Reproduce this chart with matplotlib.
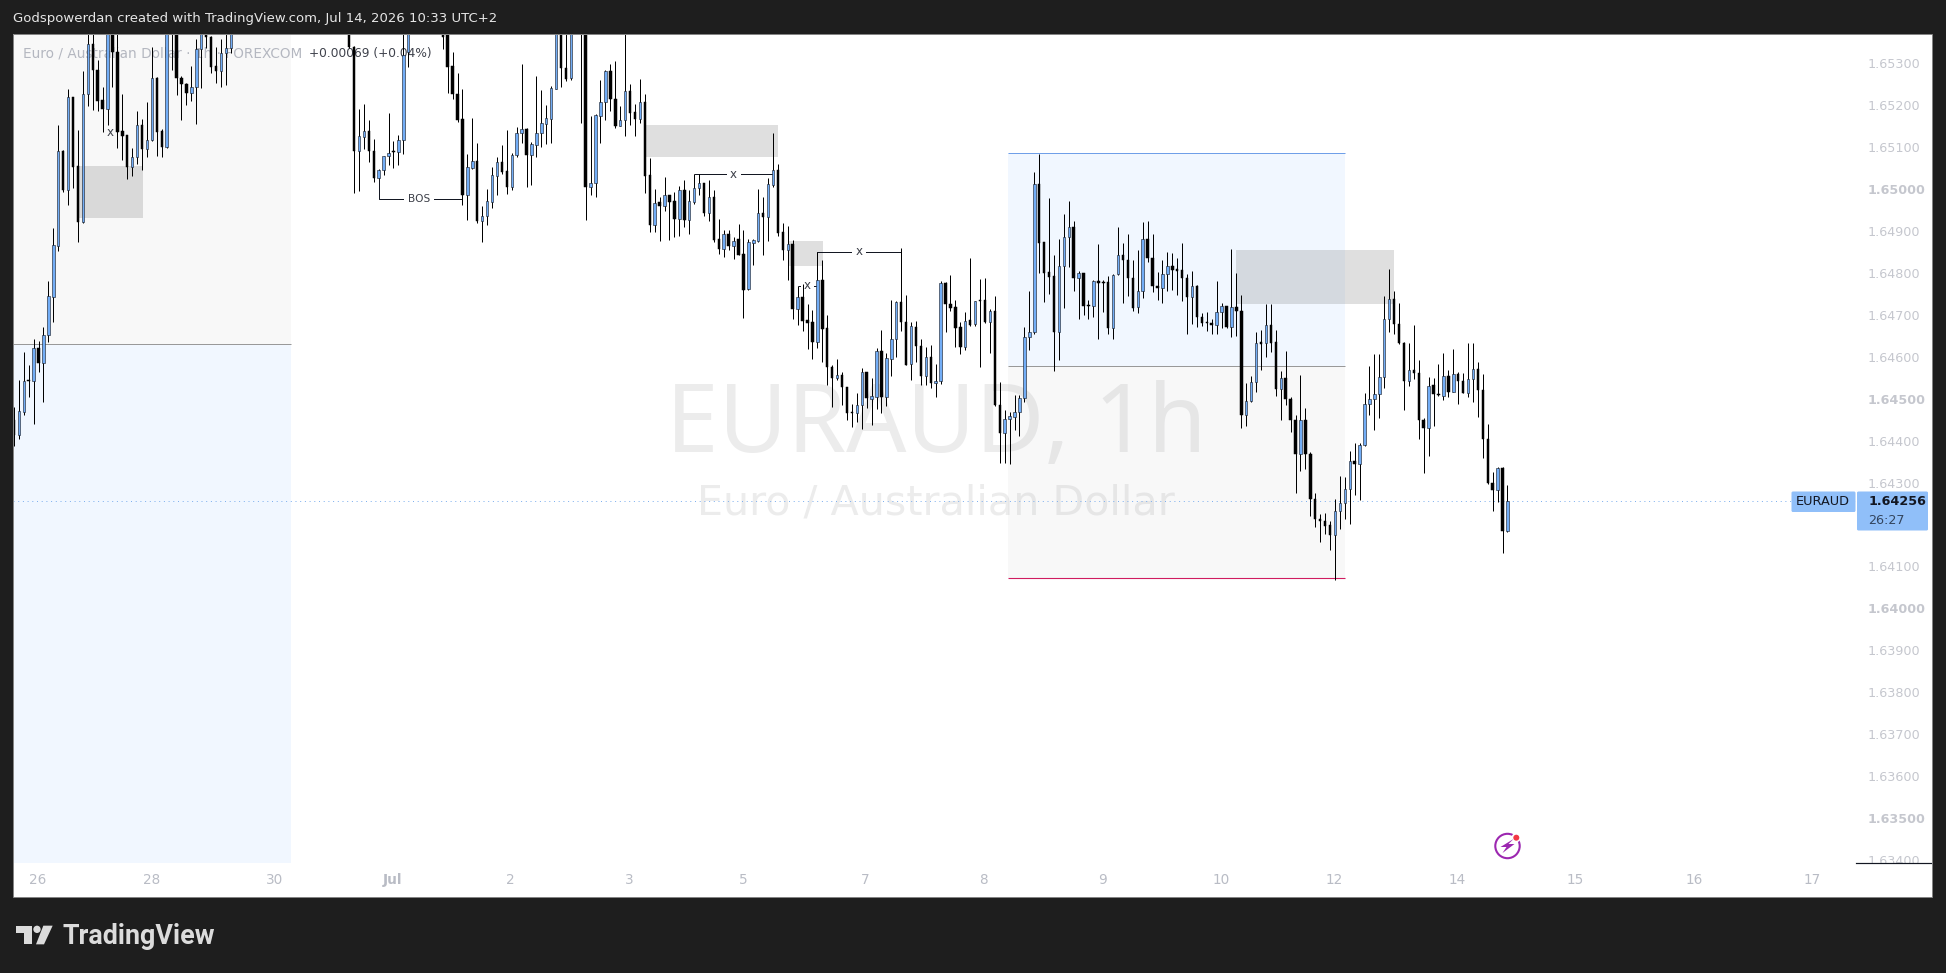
import numpy as np
import matplotlib
matplotlib.use("Agg")
import matplotlib.pyplot as plt
from matplotlib.patches import Rectangle, Circle, Polygon, FancyBboxPatch

# ---------- chart values ----------
bar_numbers = list(range(0, 45)) + list(range(68, 81)) + list(range(87, 114)) + list(range(115, 304))

opens = [
 1.64449,1.64413,1.64469,1.64545,1.64543,1.64622,1.64586,1.64653,1.64743,1.64865,
 1.65092,1.64998,1.65219,1.65055,1.64922,1.65228,1.65347,1.65285,1.65212,1.65192,
 1.65420,1.65326,1.65138,1.65128,1.65053,1.65076,1.65154,1.65096,1.65116,1.65266,
 1.65138,1.65101,1.65450,1.65400,1.65266,1.65250,1.65230,1.65243,1.65335,1.65390,
 1.65363,1.65293,1.65282,1.65325,1.65336,
 1.65420,1.65340,1.65091,1.65125,1.65138,1.65092,1.65027,1.65045,1.65080,1.65091,1.65089,1.65116,1.65328,
 1.65420,1.65400,1.65293,1.65228,1.65167,1.64987,1.65051,1.65067,1.64925,1.64936,
 1.64970,1.65032,1.65064,1.65043,1.65006,1.65082,1.65135,1.65143,1.65082,1.65106,
 1.65134,1.65156,1.65168,1.65239,1.65450,1.65290,1.65264,
 1.65450,1.65400,1.65006,1.65015,1.65175,1.65207,1.65281,1.65216,1.65151,1.65165,1.65233,1.65183,1.65168,1.65207,
 1.65033,1.64915,1.64969,1.64960,1.64985,1.64971,1.64929,1.64999,1.64927,1.64970,
 1.65003,1.65014,1.64944,1.64980,1.64880,1.64858,1.64892,1.64865,1.64880,1.64845,
 1.64761,1.64872,1.64877,1.64942,1.64933,1.65010,1.65045,1.64897,1.64855,1.64870,
 1.64715,1.64742,1.64688,1.64683,1.64636,1.64782,1.64668,1.64575,1.64550,1.64556,
 1.64527,1.64468,1.64467,1.64484,1.64563,1.64500,1.64505,1.64613,1.64503,1.64595,
 1.64642,1.64730,1.64684,1.64582,1.64672,1.64626,1.64555,1.64600,1.64537,1.64541,
 1.64775,1.64727,1.64718,1.64670,1.64624,1.64688,1.64677,1.64735,1.64735,1.64684,
 1.64708,1.64484,
 1.64419,1.64451,1.64457,1.64468,1.64501,1.64648,1.64658,1.65012,1.64873,1.64802,
 1.64793,1.64660,1.64816,1.64885,1.64909,1.64789,1.64799,1.64724,1.64720,1.64780,
 1.64778,1.64778,1.64669,1.64797,1.64842,1.64830,1.64787,1.64718,1.64756,1.64880,
 1.64836,1.64770,1.64765,1.64798,1.64816,1.64809,1.64806,1.64787,1.64743,1.64770,
 1.64694,1.64683,1.64681,1.64675,1.64706,1.64720,1.64672,1.64718,1.64708,1.64460,
 1.64495,1.64539,1.64635,1.64634,1.64675,1.64635,1.64522,1.64549,1.64499,1.64448,
 1.64367,1.64448,1.64367,1.64260,1.64213,1.64208,1.64198,1.64174,1.64233,1.64251,
 1.64284,1.64351,1.64344,1.64389,1.64487,1.64499,1.64510,1.64551,1.64689,1.64737,
 1.64678,1.64634,1.64541,1.64568,1.64561,1.64449,1.64429,1.64532,1.64510,1.64507,
 1.64554,1.64517,1.64558,1.64541,1.64514,1.64546,1.64570,1.64521,1.64403,1.64298,
 1.64281,1.64334,1.64185,
]
highs = [
 1.64479,1.64545,1.64611,1.64580,1.64642,1.64638,1.64670,1.64781,1.64906,1.65153,
 1.65093,1.65238,1.65220,1.65141,1.65281,1.65400,1.65400,1.65309,1.65244,1.65440,
 1.65440,1.65370,1.65228,1.65129,1.65097,1.65186,1.65167,1.65207,1.65338,1.65268,
 1.65143,1.65440,1.65470,1.65420,1.65270,1.65252,1.65293,1.65357,1.65420,1.65420,
 1.65365,1.65338,1.65357,1.65400,1.65420,
 1.65440,1.65342,1.65191,1.65204,1.65165,1.65119,1.65049,1.65080,1.65181,1.65115,1.65129,1.65370,1.65440,
 1.65440,1.65420,1.65326,1.65276,1.65238,1.65084,1.65169,1.65109,1.64959,1.65000,
 1.65052,1.65077,1.65105,1.65141,1.65085,1.65147,1.65298,1.65145,1.65113,1.65270,
 1.65236,1.65200,1.65246,1.65440,1.65470,1.65370,1.65440,
 1.65470,1.65420,1.65174,1.65179,1.65260,1.65284,1.65298,1.65305,1.65198,1.65390,1.65250,1.65203,1.65262,1.65228,
 1.65073,1.65000,1.64980,1.65028,1.64986,1.64994,1.65007,1.65022,1.64998,1.65037,
 1.65036,1.65015,1.65022,1.64999,1.64928,1.64902,1.64902,1.64886,1.64917,1.64902,
 1.64880,1.64880,1.65000,1.64982,1.65027,1.65134,1.65061,1.64918,1.64912,1.64878,
 1.64770,1.64774,1.64726,1.64711,1.64851,1.64831,1.64700,1.64580,1.64594,1.64564,
 1.64529,1.64487,1.64513,1.64574,1.64564,1.64549,1.64620,1.64664,1.64610,1.64735,
 1.64733,1.64859,1.64747,1.64684,1.64686,1.64642,1.64624,1.64628,1.64583,1.64781,
 1.64779,1.64795,1.64735,1.64682,1.64706,1.64836,1.64733,1.64785,1.64789,1.64715,
 1.64745,1.64540,
 1.64473,1.64469,1.64509,1.64509,1.64671,1.64757,1.65040,1.65084,1.64873,1.64978,
 1.64843,1.64880,1.64941,1.64972,1.64924,1.64805,1.64801,1.64735,1.64782,1.64869,
 1.64783,1.64793,1.64797,1.64909,1.64871,1.64894,1.64832,1.64855,1.64921,1.64924,
 1.64893,1.64803,1.64831,1.64850,1.64848,1.64836,1.64871,1.64797,1.64805,1.64771,
 1.64704,1.64707,1.64689,1.64781,1.64728,1.64721,1.64857,1.64799,1.64747,1.64537,
 1.64553,1.64658,1.64665,1.64726,1.64726,1.64665,1.64566,1.64614,1.64505,1.64461,
 1.64557,1.64477,1.64372,1.64274,1.64225,1.64227,1.64209,1.64260,1.64316,1.64314,
 1.64375,1.64394,1.64394,1.64513,1.64578,1.64606,1.64606,1.64745,1.64809,1.64756,
 1.64728,1.64635,1.64632,1.64675,1.64592,1.64453,1.64551,1.64549,1.64583,1.64608,
 1.64568,1.64618,1.64563,1.64561,1.64632,1.64632,1.64587,1.64558,1.64439,1.64326,
 1.64336,1.64336,1.64295,
]
lows = [
 1.64386,1.64404,1.64461,1.64505,1.64440,1.64564,1.64493,1.64635,1.64684,1.64853,
 1.64994,1.64962,1.65002,1.64874,1.64918,1.65198,1.65188,1.65186,1.65137,1.65154,
 1.65244,1.65097,1.65069,1.65025,1.65032,1.65060,1.65045,1.65077,1.65115,1.65079,
 1.65076,1.65097,1.65284,1.65224,1.65165,1.65200,1.65210,1.65155,1.65240,1.65337,
 1.65276,1.65254,1.65244,1.65248,1.65324,
 1.65337,1.64990,1.64996,1.65095,1.65064,1.65018,1.65027,1.65033,1.65057,1.65051,1.65057,1.65084,1.65292,
 1.65334,1.65230,1.65215,1.65161,1.64962,1.64926,1.65049,1.64920,1.64874,1.64914,
 1.64956,1.64986,1.65037,1.64988,1.64998,1.65077,1.65109,1.65006,1.65010,1.65077,
 1.65101,1.65107,1.65109,1.65238,1.65244,1.65258,1.65260,
 1.65158,1.64926,1.64986,1.64982,1.65111,1.65165,1.65186,1.65145,1.65151,1.65126,1.65153,1.65126,1.65158,1.64990,
 1.64898,1.64898,1.64877,1.64948,1.64878,1.64886,1.64888,1.64910,1.64893,1.64964,
 1.64985,1.64936,1.64923,1.64874,1.64845,1.64837,1.64855,1.64834,1.64843,1.64692,
 1.64759,1.64819,1.64874,1.64843,1.64877,1.65006,1.64888,1.64831,1.64783,1.64690,
 1.64676,1.64662,1.64619,1.64595,1.64620,1.64587,1.64533,1.64481,1.64545,1.64485,
 1.64448,1.64432,1.64445,1.64428,1.64477,1.64437,1.64476,1.64465,1.64483,1.64555,
 1.64600,1.64662,1.64580,1.64545,1.64588,1.64533,1.64533,1.64525,1.64505,1.64534,
 1.64660,1.64710,1.64624,1.64607,1.64615,1.64673,1.64674,1.64576,1.64681,1.64610,
 1.64483,1.64346,
 1.64346,1.64344,1.64425,1.64410,1.64493,1.64615,1.64654,1.64801,1.64731,1.64750,
 1.64565,1.64592,1.64717,1.64815,1.64758,1.64691,1.64700,1.64690,1.64696,1.64642,
 1.64707,1.64654,1.64642,1.64795,1.64728,1.64746,1.64710,1.64705,1.64739,1.64826,
 1.64755,1.64735,1.64729,1.64757,1.64759,1.64747,1.64733,1.64654,1.64678,1.64672,
 1.64673,1.64662,1.64654,1.64654,1.64668,1.64669,1.64648,1.64650,1.64429,1.64436,
 1.64492,1.64515,1.64568,1.64600,1.64611,1.64506,1.64449,1.64485,1.64421,1.64276,
 1.64328,1.64332,1.64220,1.64195,1.64159,1.64176,1.64139,1.64068,1.64189,1.64214,
 1.64201,1.64270,1.64258,1.64387,1.64461,1.64425,1.64455,1.64526,1.64658,1.64654,
 1.64631,1.64473,1.64530,1.64548,1.64404,1.64322,1.64364,1.64435,1.64506,1.64497,
 1.64505,1.64517,1.64487,1.64513,1.64505,1.64491,1.64457,1.64359,1.64297,1.64233,
 1.64254,1.64133,1.64181,
]
closes = [
 1.64413,1.64470,1.64541,1.64543,1.64622,1.64586,1.64653,1.64745,1.64866,1.65092,
 1.64998,1.65219,1.65053,1.64922,1.65228,1.65347,1.65284,1.65211,1.65191,1.65420,
 1.65326,1.65137,1.65127,1.65053,1.65076,1.65154,1.65096,1.65116,1.65266,1.65137,
 1.65101,1.65420,1.65400,1.65266,1.65250,1.65230,1.65243,1.65335,1.65390,1.65363,
 1.65292,1.65282,1.65325,1.65336,1.65400,
 1.65340,1.65091,1.65126,1.65138,1.65091,1.65027,1.65045,1.65080,1.65087,1.65089,1.65116,1.65320,1.65420,
 1.65363,1.65292,1.65228,1.65165,1.64986,1.65052,1.65067,1.64924,1.64937,1.64971,
 1.65033,1.65064,1.65041,1.65006,1.65082,1.65135,1.65143,1.65082,1.65107,1.65135,
 1.65157,1.65169,1.65240,1.65420,1.65290,1.65262,1.65420,
 1.65400,1.65006,1.65015,1.65177,1.65207,1.65281,1.65215,1.65150,1.65166,1.65233,1.65182,1.65168,1.65207,1.65032,
 1.64915,1.64968,1.64960,1.64985,1.64970,1.64929,1.64999,1.64926,1.64971,1.65003,
 1.65014,1.64944,1.64980,1.64878,1.64858,1.64892,1.64864,1.64875,1.64843,1.64759,
 1.64873,1.64878,1.64942,1.64933,1.65011,1.65045,1.64896,1.64855,1.64870,1.64714,
 1.64742,1.64686,1.64681,1.64636,1.64782,1.64667,1.64575,1.64550,1.64556,1.64527,
 1.64465,1.64467,1.64484,1.64563,1.64501,1.64506,1.64613,1.64503,1.64596,1.64642,
 1.64731,1.64684,1.64580,1.64673,1.64626,1.64555,1.64600,1.64537,1.64541,1.64775,
 1.64727,1.64716,1.64669,1.64624,1.64686,1.64676,1.64732,1.64733,1.64684,1.64708,
 1.64484,1.64419,
 1.64451,1.64458,1.64468,1.64501,1.64648,1.64658,1.65011,1.64872,1.64801,1.64791,
 1.64660,1.64816,1.64885,1.64909,1.64789,1.64799,1.64722,1.64722,1.64780,1.64777,
 1.64777,1.64669,1.64796,1.64842,1.64830,1.64787,1.64717,1.64756,1.64880,1.64835,
 1.64770,1.64765,1.64798,1.64816,1.64808,1.64805,1.64787,1.64743,1.64770,1.64694,
 1.64681,1.64680,1.64675,1.64706,1.64720,1.64672,1.64718,1.64708,1.64460,1.64495,
 1.64539,1.64632,1.64631,1.64675,1.64634,1.64522,1.64549,1.64499,1.64448,1.64367,
 1.64448,1.64367,1.64260,1.64212,1.64207,1.64197,1.64174,1.64233,1.64251,1.64284,
 1.64351,1.64344,1.64390,1.64487,1.64499,1.64510,1.64551,1.64689,1.64737,1.64677,
 1.64632,1.64541,1.64568,1.64561,1.64448,1.64429,1.64531,1.64510,1.64509,1.64553,
 1.64517,1.64558,1.64541,1.64514,1.64546,1.64570,1.64521,1.64403,1.64298,1.64281,
 1.64334,1.64185,1.64255,
]

price_ticks = [1.634, 1.635, 1.636, 1.637, 1.638, 1.639, 1.640, 1.641, 1.643,
               1.644, 1.645, 1.646, 1.647, 1.648, 1.649, 1.650, 1.651, 1.652, 1.653]
bold_price_ticks = [1.635, 1.640, 1.645, 1.650]
time_tick_bars = [4.9, 28, 53, 76.85, 100.7, 124.8, 148, 172.8, 196.8, 220.8, 244.9, 268, 292.8, 316.9, 340.9, 364.8]
time_tick_labels = ["26", "28", "30", "Jul", "2", "3", "5", "7", "8", "9", "10", "12", "14", "15", "16", "17"]
last_price = 1.64256

# position tools and boxes: (bar start, bar end, price low, price high)
left_target_zone = (-6, 56.2, 1.64630, 1.66000)
left_stop_zone = (-6, 56.2, 1.63000, 1.64630)
right_blue_zone = (201.7, 270, 1.64577, 1.65085)
right_gray_zone = (201.7, 270, 1.64072, 1.64577)
gray_boxes = [(13, 26.2, 1.64931, 1.65055), (128, 155, 1.65077, 1.65153),
              (157, 164.2, 1.64817, 1.64876), (248, 280, 1.64726, 1.64855)]

# ---------- layout ----------
W, H = 1946, 973
BG = "#1e1e1e"
INK = "#131722"
UP = "#72adf6"
FONT = "DejaVu Sans"
plt.rcParams["font.family"] = FONT

fig = plt.figure(figsize=(W / 100, H / 100), dpi=100, facecolor=BG)


def axes_px(x0, y0, x1, y1, **kw):
    return fig.add_axes([x0 / W, 1 - y1 / H, (x1 - x0) / W, (y1 - y0) / H], **kw)


PX = 0.72
# backdrop
back = axes_px(13, 34, 1932, 897, zorder=0, facecolor="white")
back.set_xticks([]); back.set_yticks([])
for s in back.spines.values():
    s.set_visible(False)

ax = axes_px(13, 34, 1856, 862.7, zorder=2, facecolor="white")
ax.set_xlim(-0.18, 373.7)
ax.set_ylim(1.63393, 1.65370)
for s in ax.spines.values():
    s.set_visible(False)
ax.set_xticks([])
ax.yaxis.tick_right()
ax.set_yticks(price_ticks)
ax.set_yticklabels([f"{p:.5f}" for p in price_ticks])
ax.tick_params(axis="y", length=0, pad=8, labelsize=9.2, labelcolor="#c5c7ce")
for lab, p in zip(ax.get_yticklabels(), price_ticks):
    if p in bold_price_ticks:
        lab.set_fontweight("bold")

# watermark
fig_wm = dict(transform=fig.transFigure, ha="center", va="baseline", color="#ececec", zorder=1)
ax.text(936 / W, 1 - 452 / H, "EURAUD, 1h", fontsize=68, family="Noto Sans", fontweight="medium", clip_on=False, **fig_wm)
ax.text(936 / W, 1 - 515 / H, "Euro / Australian Dollar", fontsize=29.7, family="DejaVu Sans", clip_on=False, **fig_wm)

# zones
GRAY_ZONE = (120 / 255, 123 / 255, 134 / 255, .05)
BLUE_ZONE = (0.1, 0.5, 1, .06)
for z, col in [(left_target_zone, GRAY_ZONE), (left_stop_zone, BLUE_ZONE),
               (right_blue_zone, BLUE_ZONE), (right_gray_zone, GRAY_ZONE)]:
    ax.add_patch(Rectangle((z[0], z[2]), z[1] - z[0], z[3] - z[2], facecolor=col, edgecolor="none", zorder=1.5))
for z in gray_boxes:
    ax.add_patch(Rectangle((z[0], z[2]), z[1] - z[0], z[3] - z[2], facecolor=(.47, .47, .47, .235), edgecolor="none", zorder=1.7))
ax.hlines(left_stop_zone[3], left_stop_zone[0], left_stop_zone[1], color="#999999", lw=PX, zorder=1.8)
ax.hlines(right_blue_zone[3], right_blue_zone[0], right_blue_zone[1], color="#6f9fe8", lw=PX, zorder=1.8)
ax.hlines(right_blue_zone[2], right_blue_zone[0], right_blue_zone[1], color="#999999", lw=PX, zorder=1.8)
ax.hlines(right_gray_zone[2], right_gray_zone[0], right_gray_zone[1], color="#d01c60", lw=PX * 1.1, zorder=1.8)

# last-price line
ax.axhline(last_price, color="#7fb0ee", lw=PX, ls=(0, (1, 3.7)), zorder=1.9)

# legend text (under candles)
ax.text(23 / W, 1 - 53.5 / H, "Euro / Australian Dollar · 1h · FOREXCOM", transform=fig.transFigure,
        fontsize=9.85, color="#b4b7c0", va="center", zorder=1.95)
ax.text(309 / W, 1 - 53.5 / H, "+0.00069 (+0.04%)", transform=fig.transFigure,
        fontsize=8.85, color="#3f424c", va="center", zorder=1.95)

# candles
xs = np.array(bar_numbers, dtype=float)
o, h, l, c = (np.array(v, dtype=float) for v in (opens, highs, lows, closes))
rising = c >= o
ax.vlines(xs, l, h, color="black", lw=PX, zorder=3)
bw = 0.5
ax.bar(xs[~rising], (o - c)[~rising], bottom=c[~rising], width=bw, color="black", edgecolor="black", lw=0.35, zorder=3.2)
ax.bar(xs[rising], (c - o)[rising], bottom=o[rising], width=bw, color=UP, edgecolor="#10151f", lw=0.4, zorder=3.2)

# annotations
line_kw = dict(color=INK, lw=PX, zorder=2.8)
ax.plot([74, 74, 91, 91], [1.65027, 1.64976, 1.64976, 1.64986], **line_kw)
ax.plot([138, 138], [1.65035, 1.65036], **line_kw)
ax.hlines(1.65035, 138, 154, **line_kw)
ax.plot([163, 163, 180, 180], [1.64782, 1.64851, 1.64851, 1.64730], **line_kw)
ax.hlines(1.64770, 159, 163, **line_kw)
note_kw = dict(ha="center", va="center", color="#3c3f48", zorder=2.9,
               bbox=dict(facecolor="white", edgecolor="none", pad=2.5))
ax.text(82.2, 1.64976, "BOS", fontsize=7.6, **note_kw)
ax.text(146, 1.65035, "x", fontsize=8.6, **note_kw)
ax.text(171.5, 1.64851, "x", fontsize=8.6, **note_kw)
ax.text(161, 1.64770, "x", fontsize=8.6, **note_kw)
ax.text(19.5, 1.65135, "x", fontsize=8.6, ha="center", va="center", color="#3c3f48", zorder=2.9,
        bbox=dict(facecolor="#f8f8f8", edgecolor="none", pad=1.5))

# time axis strip
tax = axes_px(13, 862.7, 1932, 897, zorder=3, facecolor="white")
tax.set_xlim(-0.18, 389.2)
tax.set_ylim(0, 1)
tax.set_yticks([])
for s in tax.spines.values():
    s.set_visible(False)
tax.set_xticks(time_tick_bars)
tax.set_xticklabels(time_tick_labels)
tax.tick_params(axis="x", length=0, direction="in", pad=-17, labelsize=9.8, labelcolor="#b9bcc5")
for lab in tax.get_xticklabels():
    if lab.get_text() == "Jul":
        lab.set_fontweight("bold")
tax.axhline(1, xmin=(373.7 + 0.18) / (389.2 + 0.18), xmax=1, color=INK, lw=PX * 1.2, clip_on=False)

# overlay in pixel coordinates: frame, header, footer, tags
ov = axes_px(0, 0, W, H, zorder=5)
ov.set_xlim(0, W)
ov.set_ylim(H, 0)
ov.axis("off")
ov.patch.set_alpha(0)
ov.add_patch(Rectangle((13, 34), 1919, 863, fill=False, edgecolor="#848484", lw=PX))
ov.text(13, 18.5, "Godspowerdan created with TradingView.com, Jul 14, 2026 10:33 UTC+2",
        color="#e6e6e6", fontsize=9.55, va="center")

# last price tags
TAG = "#90bff9"
ov.add_patch(FancyBboxPatch((1792, 492), 63, 19.5, boxstyle="round,pad=0,rounding_size=1", facecolor=TAG, edgecolor=TAG, lw=PX))
ov.add_patch(FancyBboxPatch((1857.5, 492), 70, 38, boxstyle="round,pad=0,rounding_size=1", facecolor=TAG, edgecolor=TAG, lw=PX))
ov.text(1796, 501.5, "EURAUD", color=INK, fontsize=9.3, va="center")
ov.text(1869, 501.5, "1.64256", color=INK, fontsize=9.2, va="center", fontweight="bold")
ov.text(1868, 520, "26:27", color="#33455e", fontsize=9.2, va="center")

# lightning icon
cx, cy = 1507.5, 846
ov.add_patch(Circle((cx, cy), 12.2, fill=False, edgecolor="#9c27b0", lw=1.5))
ov.add_patch(Circle((cx + 8.6, cy - 8.3), 4.6, facecolor="white", edgecolor="none"))
ov.add_patch(Circle((cx + 8.8, cy - 8.3), 3, facecolor="#f23645", edgecolor="none"))
ov.add_patch(Polygon([(cx + 6, cy - 7), (cx - 7, cy + 1), (cx - 1, cy + 1), (cx - 5, cy + 7),
                      (cx + 7, cy - 2), (cx + 1, cy - 2)], closed=True, facecolor="#9c27b0", edgecolor="none"))

# TradingView footer logo
LOGO = "#dcdcdc"
def lp(x, y):
    return (x / 3, 840 + y / 3)
ov.add_patch(Polygon([lp(47, 257), lp(95, 257), lp(95, 313), lp(71, 313), lp(71, 280), lp(47, 280)], closed=True, facecolor=LOGO, edgecolor="none"))
ov.add_patch(Circle(lp(111, 268), 11 / 3, facecolor=LOGO, edgecolor="none"))
ov.add_patch(Polygon([lp(130, 257), lp(158, 257), lp(132, 313), lp(108, 313)], closed=True, facecolor=LOGO, edgecolor="none"))
ov.text(62.5, 944, "TradingView", color=LOGO, fontsize=19.4, family="Roboto", fontweight="bold", va="baseline")

fig.savefig("out.png", dpi=100, facecolor=BG)
